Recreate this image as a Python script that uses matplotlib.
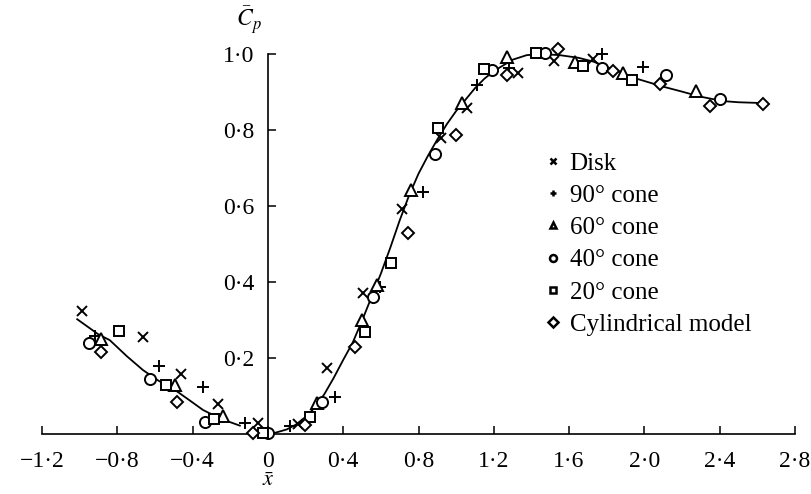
import matplotlib
matplotlib.use("Agg")
import matplotlib.pyplot as plt
from matplotlib.lines import Line2D

plt.rcParams['font.family'] = ['Liberation Serif', 'DejaVu Serif']
plt.rcParams['mathtext.fontset'] = 'stix'

disk_x = [-0.99, -0.663, -0.464, -0.264, -0.051, 0.161, 0.315, 0.506, 0.71, 0.92, 1.056, 1.33, 1.52, 1.729]
disk_y = [0.324, 0.254, 0.158, 0.079, 0.030, 0.026, 0.173, 0.370, 0.591, 0.78, 0.857, 0.949, 0.982, 0.986]

cone90_x = [-0.92, -0.579, -0.344, -0.122, 0.117, 0.356, 0.595, 0.822, 1.112, 1.28, 1.773, 1.991]
cone90_y = [0.258, 0.179, 0.123, 0.030, 0.021, 0.098, 0.388, 0.638, 0.918, 0.963, 1.0, 0.967]

cone60_x = [-0.884, -0.494, -0.241, 0.262, 0.498, 0.58, 0.758, 1.03, 1.268, 1.631, 1.885, 2.274]
cone60_y = [0.249, 0.129, 0.047, 0.081, 0.30, 0.392, 0.642, 0.870, 0.993, 0.980, 0.951, 0.903]

cone40_x = [-0.95, -0.627, -0.335, 0.0, 0.285, 0.56, 0.887, 1.189, 1.472, 1.773, 2.115, 2.402]
cone40_y = [0.239, 0.144, 0.032, 0.003, 0.085, 0.361, 0.737, 0.958, 1.003, 0.962, 0.945, 0.881]

cone20_x = [-0.79, -0.542, -0.287, -0.025, 0.223, 0.515, 0.652, 0.903, 1.148, 1.424, 1.675, 1.932]
cone20_y = [0.272, 0.129, 0.039, 0.003, 0.046, 0.269, 0.449, 0.805, 0.960, 1.002, 0.968, 0.932]

cyl_x = [-0.884, -0.485, -0.078, 0.197, 0.462, 0.746, 1.0, 1.268, 1.543, 1.831, 2.083, 2.349, 2.632]
cyl_y = [0.217, 0.085, 0.002, 0.024, 0.23, 0.528, 0.787, 0.945, 1.012, 0.956, 0.921, 0.863, 0.868]

# faired curves drawn through the data
left_x = [-1.013, -0.9, -0.84, -0.75, -0.663, -0.58, -0.494, -0.42, -0.344, -0.25, -0.149]
left_y = [0.302, 0.262, 0.247, 0.205, 0.168, 0.14, 0.116, 0.09, 0.063, 0.04, 0.022]

right_x = [0.037, 0.1, 0.15, 0.2, 0.25, 0.3, 0.35, 0.4, 0.45, 0.5, 0.55, 0.6, 0.65, 0.7, 0.75,
           0.8, 0.85, 0.9, 0.95, 1.0, 1.05, 1.1, 1.15, 1.2, 1.3, 1.375, 1.45, 1.55, 1.65, 1.729,
           1.82, 1.906, 1.959, 2.1, 2.2, 2.295, 2.419, 2.5, 2.62]
right_y = [0.003, 0.012, 0.025, 0.045, 0.07, 0.105, 0.148, 0.195, 0.24, 0.298, 0.36, 0.422, 0.49,
           0.562, 0.628, 0.685, 0.732, 0.775, 0.815, 0.85, 0.88, 0.91, 0.935, 0.955, 0.985, 0.997,
           1.0, 0.997, 0.99, 0.98, 0.962, 0.945, 0.935, 0.914, 0.901, 0.888, 0.876, 0.873, 0.871]

xticks = [-1.2, -0.8, -0.4, 0, 0.4, 0.8, 1.2, 1.6, 2.0, 2.4, 2.8]
xlabels = ['\u22121\u00b72', '\u22120\u00b78', '\u22120\u00b74', '0', '0\u00b74', '0\u00b78',
           '1\u00b72', '1\u00b76', '2\u00b70', '2\u00b74', '2\u00b78']
yticks = [0.2, 0.4, 0.6, 0.8, 1.0]
ylabels = ['0\u00b72', '0\u00b74', '0\u00b76', '0\u00b78', '1\u00b70']

series = [
    (disk_x, disk_y, 'x', 'Disk', 7.5),
    (cone90_x, cone90_y, '+', '90\u00b0 cone', 9),
    (cone60_x, cone60_y, '^', '60\u00b0 cone', 8),
    (cone40_x, cone40_y, 'o', '40\u00b0 cone', 8),
    (cone20_x, cone20_y, 's', '20\u00b0 cone', 7),
    (cyl_x, cyl_y, 'D', 'Cylindrical model', 6.5),
]

fig = plt.figure(figsize=(8.11, 4.94), dpi=100)
ax = fig.add_axes([42 / 811, 60 / 494, 753 / 811, 380 / 494])
ax.set_xlim(-1.2, 2.8)
ax.set_ylim(0, 1.0)

ax.plot(left_x, left_y, color='black', lw=1.3, clip_on=False)
ax.plot(right_x, right_y, color='black', lw=1.3, clip_on=False)

for xs, ys, m, lab, ms in series:
    ax.plot(xs, ys, ls='none', marker=m, ms=ms, mfc='white', mec='black', mew=1.4,
            clip_on=False, zorder=3)

# axes: x axis along Cp = 0, y axis at x = 0
for s in ['top', 'right']:
    ax.spines[s].set_visible(False)
ax.spines['left'].set_position(('data', 0))
ax.spines['left'].set_bounds(0, 1.0)
ax.spines['bottom'].set_bounds(-1.2, 2.8)
for s in ['left', 'bottom']:
    ax.spines[s].set_linewidth(1.2)

ax.set_xticks(xticks)
ax.set_xticklabels(xlabels)
ax.set_yticks(yticks)
ax.set_yticklabels(ylabels)
ax.tick_params(axis='x', direction='in', length=6, width=1.1, pad=12, labelsize=17)
ax.tick_params(axis='y', direction='in', length=6, width=1.1, pad=10, labelsize=17)

ax.text(0, -0.125, r'$\bar{x}$', transform=ax.get_xaxis_transform(),
        ha='center', va='center', fontsize=16)
ax.text(-0.10, 1.09, r'$\bar{C}_p$', ha='center', va='center', fontsize=17, clip_on=False)

handles = [Line2D([], [], ls='none', marker=m, ms=5, mfc='white', mec='black', mew=1.8)
           for _, _, m, _, _ in series]
labels = [lab for _, _, _, lab, _ in series]
ax.legend(handles, labels, loc='upper left', bbox_to_anchor=(0.655, 0.768), frameon=False,
          fontsize=18, handlelength=0.6, handletextpad=0.38, labelspacing=0.39,
          borderaxespad=0)

fig.savefig('out.png', dpi=100)
